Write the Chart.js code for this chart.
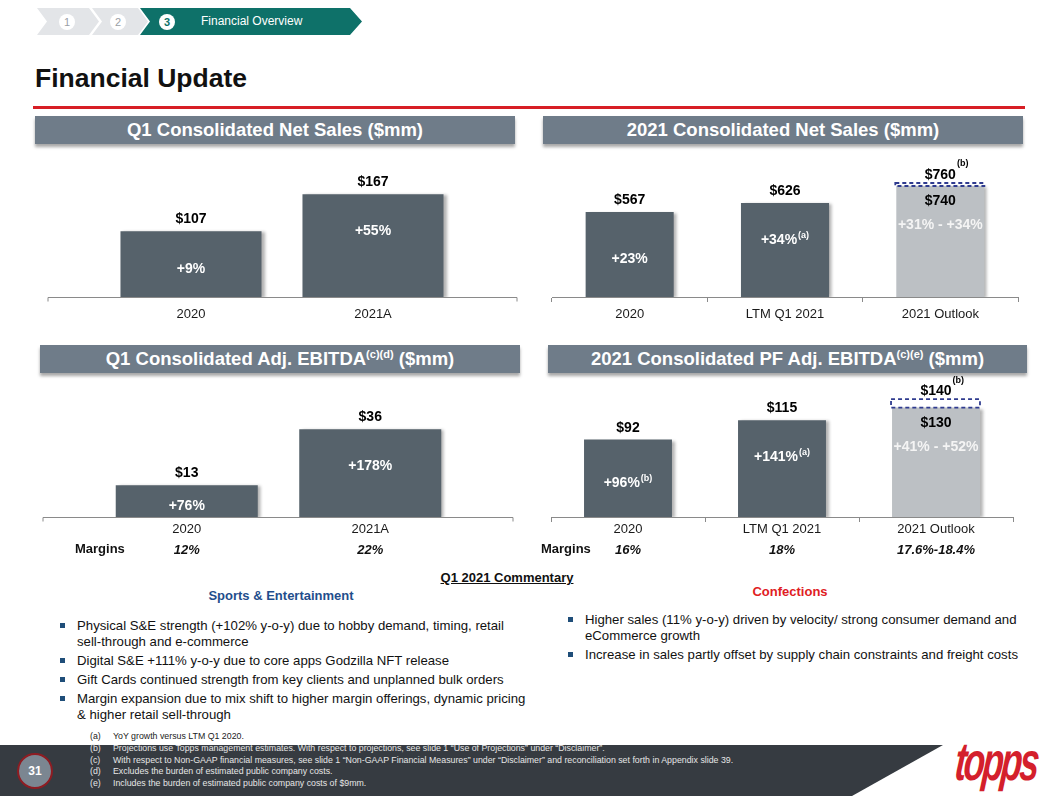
<!DOCTYPE html>
<html>
<head>
<meta charset="utf-8">
<script src="https://cdn.jsdelivr.net/npm/chart.js@4.4.0/dist/chart.umd.min.js"></script>
<style>
body { margin: 0; width: 1058px; height: 796px; position: relative; overflow: hidden; background: #fff; font-family: "Liberation Sans", Arial, sans-serif; color: #111; }
.abs { position: absolute; }
.chev { position: absolute; top: 8px; height: 27px; }
.dot { position: absolute; top: 13.5px; width: 16px; height: 16px; border-radius: 50%; background: #fff; font-size: 11px; line-height: 16px; text-align: center; color: #9aa0a6; }
.hdr { position: absolute; height: 28px; background: #6f7c89; color: #fff; font-weight: bold; font-size: 18.5px; line-height: 28px; text-align: center; box-shadow: 0 3px 3px rgba(0,0,0,0.35); white-space: nowrap; }
.hdr sup { font-size: 11px; vertical-align: 7px; line-height: 0; }
canvas { position: absolute; }
.margins { position: absolute; font-weight: bold; font-size: 13px; line-height: 16px; }
.bul { position: absolute; font-size: 13.2px; line-height: 16px; white-space: nowrap; }
.bul div { position: relative; padding-left: 17px; margin-bottom: 3px; }
.bul div::before { content: ""; position: absolute; left: 0; top: 5px; width: 5px; height: 5px; background: #1f4e79; }
.foot { position: absolute; left: 90px; font-size: 8.8px; line-height: 11.5px; white-space: nowrap; }
.foot span { display: inline-block; width: 23px; }
</style>
</head>
<body>

<!-- breadcrumb -->
<div class="chev" style="left:37px;width:62px;background:#e3e5e8;clip-path:polygon(0 0,52px 0,62px 50%,52px 100%,0 100%,10px 50%)"></div>
<div class="chev" style="left:92px;width:56px;background:#e3e5e8;clip-path:polygon(0 0,46px 0,56px 50%,46px 100%,0 100%,10px 50%)"></div>
<div class="chev" style="left:140px;width:222px;background:#0e7169;clip-path:polygon(0 0,210px 0,222px 50%,210px 100%,0 100%,10px 50%)"></div>
<div class="dot" style="left:59px">1</div>
<div class="dot" style="left:110px">2</div>
<div class="dot" style="left:159px;color:#0e7169;font-weight:bold">3</div>
<div class="abs" style="left:201px;top:14px;font-size:12px;line-height:15px;color:#fff">Financial Overview</div>

<div class="abs" style="left:35px;top:62px;font-size:26.5px;font-weight:bold;line-height:32px">Financial Update</div>
<div class="abs" style="left:33px;top:106px;width:992px;height:3px;background:#d71e25"></div>

<!-- panel headers -->
<div class="hdr" style="left:35px;top:116px;width:480px">Q1 Consolidated Net Sales ($mm)</div>
<div class="hdr" style="left:543px;top:116px;width:480px">2021 Consolidated Net Sales ($mm)</div>
<div class="hdr" style="left:40px;top:345px;width:480px">Q1 Consolidated Adj. EBITDA<sup>(c)(d)</sup> ($mm)</div>
<div class="hdr" style="left:548px;top:345px;width:479px">2021 Consolidated PF Adj. EBITDA<sup>(c)(e)</sup> ($mm)</div>

<canvas id="c1" width="480" height="180" style="left:40px;top:150px"></canvas>
<canvas id="c2" width="490" height="180" style="left:540px;top:150px"></canvas>
<canvas id="c3" width="490" height="190" style="left:35px;top:370px"></canvas>
<canvas id="c4" width="490" height="190" style="left:540px;top:370px"></canvas>

<div class="margins" style="left:75px;top:541px">Margins</div>
<div class="margins" style="left:541px;top:541px">Margins</div>

<!-- commentary -->
<div class="abs" style="left:0;width:1014px;top:570px;text-align:center;font-size:13px;font-weight:bold;text-decoration:underline;line-height:16px">Q1 2021 Commentary</div>
<div class="abs" style="left:181px;width:200px;top:588px;text-align:center;font-size:13px;font-weight:bold;color:#1f4e8c;line-height:16px">Sports &amp; Entertainment</div>
<div class="abs" style="left:690px;width:200px;top:584px;text-align:center;font-size:13px;font-weight:bold;color:#e0201f;line-height:16px">Confections</div>

<div class="bul" style="left:60px;top:618px">
  <div>Physical S&amp;E strength (+102% y-o-y) due to hobby demand, timing, retail<br>sell-through and e-commerce</div>
  <div>Digital S&amp;E +111% y-o-y due to core apps Godzilla NFT release</div>
  <div>Gift Cards continued strength from key clients and unplanned bulk orders</div>
  <div>Margin expansion due to mix shift to higher margin offerings, dynamic pricing<br>&amp; higher retail sell-through</div>
</div>
<div class="bul" style="left:568px;top:612px">
  <div>Higher sales (11% y-o-y) driven by velocity/ strong consumer demand and<br>eCommerce growth</div>
  <div>Increase in sales partly offset by supply chain constraints and freight costs</div>
</div>

<!-- footer -->
<div class="abs" style="left:0;top:745px;width:943px;height:51px;background:#363b41;clip-path:polygon(0 0,943px 0,852px 51px,0 51px)"></div>
<div class="abs" style="left:17px;top:753px;width:32px;height:32px;border-radius:50%;background:#7b8691;border:2.5px solid #8e1c22;color:#fff;font-weight:bold;font-size:12px;line-height:32px;text-align:center">31</div>
<div class="foot" style="top:731px;color:#222"><span>(a)</span>YoY growth versus LTM Q1 2020.</div>
<div class="foot" style="top:743px;color:#e6e6e6"><span>(b)</span>Projections use Topps management estimates. With respect to projections, see slide 1 “Use of Projections” under “Disclaimer”.</div>
<div class="foot" style="top:754.5px;color:#e6e6e6"><span>(c)</span>With respect to Non-GAAP financial measures, see slide 1 “Non-GAAP Financial Measures” under “Disclaimer” and reconciliation set forth in Appendix slide 39.</div>
<div class="foot" style="top:766px;color:#e6e6e6"><span>(d)</span>Excludes the burden of estimated public company costs.</div>
<div class="foot" style="top:777.5px;color:#e6e6e6"><span>(e)</span>Includes the burden of estimated public company costs of $9mm.</div>
<div class="abs" style="left:958px;top:733px;font-size:38px;font-weight:bold;font-style:italic;color:#d41f2c;letter-spacing:-3px;line-height:40px;transform-origin:0 0;transform:scale(0.92,1.42) skewX(-8deg)">topps</div>

<script>
// Q1 consolidated net sales
const q1Cats = ['2020', '2021A'];
const q1Sales = [107, 167];
const q1SalesGrowth = ['+9%', '+55%'];
const q1SalesNotes = ['', ''];

// 2021 consolidated net sales (outlook shown as low / high)
const fyCats = ['2020', 'LTM Q1 2021', '2021 Outlook'];
const fySales = [567, 626, 740];
const fySalesHigh = [null, null, 760];
const fySalesGrowth = ['+23%', '+34%', '+31% - +34%'];
const fySalesNotes = ['', '(a)', ''];

// Q1 consolidated adj. EBITDA
const q1Ebitda = [13, 36];
const q1EbitdaHigh = [null, null];
const q1EbitdaGrowth = ['+76%', '+178%'];
const q1EbitdaNotes = ['', ''];
const q1Margins = ['12%', '22%'];

// 2021 consolidated PF adj. EBITDA
const fyEbitda = [92, 115, 130];
const fyEbitdaHigh = [null, null, 140];
const fyEbitdaGrowth = ['+96%', '+141%', '+41% - +52%'];
const fyEbitdaNotes = ['(b)', '(a)', ''];
const fyMargins = ['16%', '18%', '17.6%-18.4%'];

const FONT = '"Liberation Sans", Arial, sans-serif';
const DARK = '#56626b';
const LIGHT = '#bcc0c4';

// text with an optional superscript, centred on x
function rich(ctx, x, y, main, sup, size, color, centerMainOnly) {
    const supSize = Math.round(size * 0.64);
    ctx.textAlign = 'left';
    ctx.textBaseline = 'alphabetic';
    ctx.fillStyle = color;
    ctx.font = `bold ${size}px ${FONT}`;
    const w1 = ctx.measureText(main).width;
    let w2 = 0;
    if (sup) {
        ctx.font = `bold ${supSize}px ${FONT}`;
        w2 = ctx.measureText(sup).width + 1;
    }
    const x0 = x - (centerMainOnly ? w1 : w1 + w2) / 2;
    ctx.font = `bold ${size}px ${FONT}`;
    ctx.fillText(main, x0, y);
    if (sup) {
        ctx.font = `bold ${supSize}px ${FONT}`;
        ctx.fillText(sup, x0 + w1 + 1, y - size * (centerMainOnly ? 0.9 : 0.42));
    }
}

const barShadow = {
    id: 'barShadow',
    beforeDatasetDraw(chart, args) {
        if (args.index !== 0) return;
        const ctx = chart.ctx;
        ctx.save();
        ctx.shadowColor = 'rgba(0,0,0,0.3)';
        ctx.shadowOffsetX = 3;
        ctx.shadowOffsetY = 1;
        ctx.shadowBlur = 3;
    },
    afterDatasetDraw(chart, args) {
        if (args.index === 0) chart.ctx.restore();
    }
};

const barLabels = {
    id: 'barLabels',
    afterDatasetsDraw(chart, args, o) {
        const ctx = chart.ctx;
        const bars = chart.getDatasetMeta(0).data;
        const tops = chart.getDatasetMeta(1).data;
        const values = chart.data.datasets[0].data;
        ctx.save();
        // axis line for the two-bar charts
        if (o.lineFrom != null) {
            const y = Math.round(chart.scales.y.getPixelForValue(0)) + 0.5;
            ctx.strokeStyle = '#8a8a8a';
            ctx.lineWidth = 1;
            ctx.beginPath();
            ctx.moveTo(o.lineFrom, y + 4); ctx.lineTo(o.lineFrom, y);
            ctx.lineTo(o.lineTo, y); ctx.lineTo(o.lineTo, y + 4);
            ctx.stroke();
        }
        bars.forEach((bar, i) => {
            const p = bar.getProps(['x', 'y', 'base'], true);
            if (o.high[i] != null) {
                const r = tops[i].getProps(['x', 'y', 'base', 'width'], true);
                ctx.setLineDash([4, 3]);
                ctx.strokeStyle = '#2f3b8f';
                ctx.lineWidth = 1.8;
                ctx.strokeRect(r.x - r.width / 2 - 1, r.y, r.width + 1, r.base - r.y);
                ctx.setLineDash([]);
                rich(ctx, p.x, r.y - 4, '$' + o.high[i], '(b)', 14, '#000', true);
                rich(ctx, p.x, p.y + 19, '$' + values[i], '', 14, '#000');
                rich(ctx, p.x, p.y + 43, o.growth[i], '', 14, '#f4f4f4');
            } else {
                rich(ctx, p.x, p.y - 8, '$' + values[i], '', 14, '#000');
                const gy = i === 0 ? (p.y + p.base) / 2 + 9 : p.y + 41;
                rich(ctx, p.x, gy, o.growth[i], o.notes[i], 14, '#fff');
            }
            if (o.margins) {
                ctx.font = `italic bold 13px ${FONT}`;
                ctx.fillStyle = '#111';
                ctx.textAlign = 'center';
                ctx.fillText(o.margins[i], p.x, chart.chartArea.bottom + 37);
            }
        });
        ctx.restore();
    }
};

function barChart(id, cats, values, high, s, labelOpts) {
    const nativeAxis = s.lineFrom == null;
    return new Chart(document.getElementById(id), {
        type: 'bar',
        data: {
            labels: cats,
            datasets: [
                {
                    data: values,
                    backgroundColor: high.map(h => h == null ? DARK : LIGHT),
                    grouped: false,
                    categoryPercentage: 1,
                    barPercentage: s.bar
                },
                {
                    data: high.map((h, i) => h == null ? null : [values[i], h]),
                    backgroundColor: 'rgba(0,0,0,0)',
                    grouped: false,
                    categoryPercentage: 1,
                    barPercentage: s.bar
                }
            ]
        },
        options: {
            responsive: false,
            animation: false,
            layout: { padding: s.pad },
            plugins: {
                legend: { display: false },
                tooltip: { enabled: false },
                barLabels: Object.assign({ high, lineFrom: s.lineFrom, lineTo: s.lineTo }, labelOpts)
            },
            scales: {
                x: {
                    grid: nativeAxis
                        ? { display: true, drawOnChartArea: false, drawTicks: true, tickLength: 5, color: '#8a8a8a' }
                        : { display: false, drawTicks: false },
                    border: { display: nativeAxis, color: '#8a8a8a' },
                    ticks: { color: '#1a1a1a', padding: s.tickPad, font: { family: FONT, size: 13 } },
                    afterFit: sc => { sc.height = s.axisH; }
                },
                y: { display: false, min: 0, max: s.yMax }
            }
        },
        plugins: [barShadow, barLabels]
    });
}

barChart('c1', q1Cats, q1Sales, [null, null],
    { pad: { left: 60, right: 56, top: 24, bottom: 0 }, axisH: 33, yMax: 200, bar: 0.775, tickPad: 10, lineFrom: 8, lineTo: 477 },
    { growth: q1SalesGrowth, notes: q1SalesNotes });

barChart('c2', fyCats, fySales, fySalesHigh,
    { pad: { left: 12, right: 12, top: 24, bottom: 0 }, axisH: 33, yMax: 820, bar: 0.567, tickPad: 5 },
    { growth: fySalesGrowth, notes: fySalesNotes });

barChart('c3', q1Cats, q1Ebitda, q1EbitdaHigh,
    { pad: { left: 60, right: 63, top: 25, bottom: 0 }, axisH: 43, yMax: 50, bar: 0.774, tickPad: 5, lineFrom: 8, lineTo: 478 },
    { growth: q1EbitdaGrowth, notes: q1EbitdaNotes, margins: q1Margins });

barChart('c4', fyCats, fyEbitda, fyEbitdaHigh,
    { pad: { left: 11, right: 17, top: 25, bottom: 0 }, axisH: 43, yMax: 145, bar: 0.571, tickPad: 0 },
    { growth: fyEbitdaGrowth, notes: fyEbitdaNotes, margins: fyMargins });
</script>
</body>
</html>
